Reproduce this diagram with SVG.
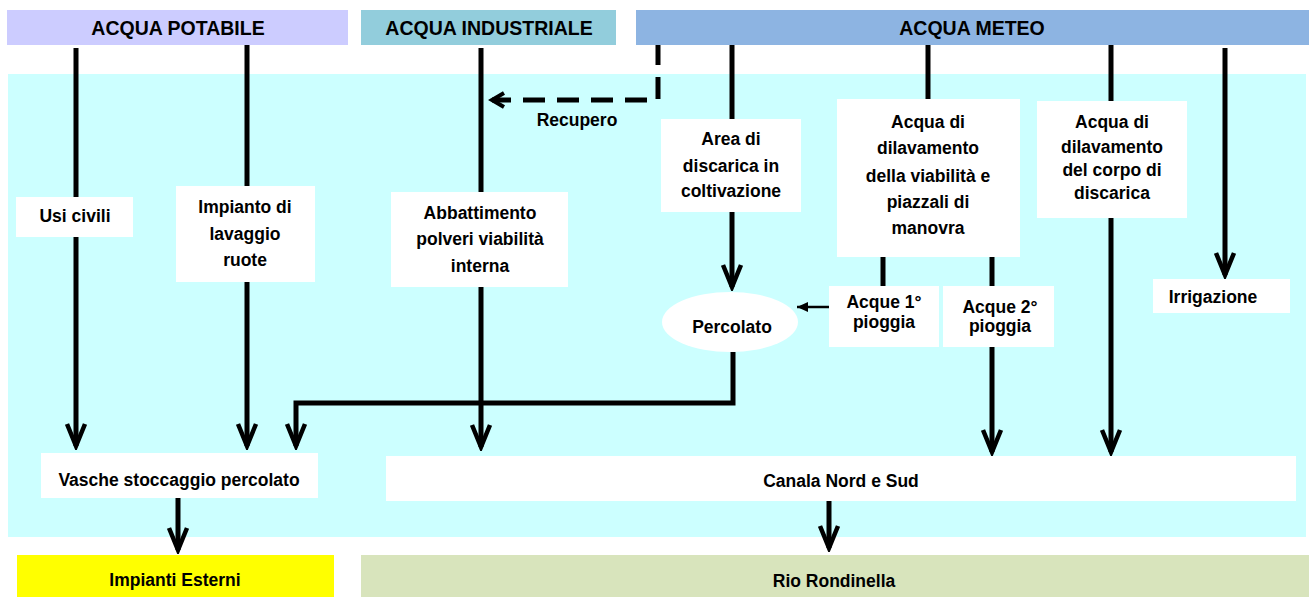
<svg xmlns="http://www.w3.org/2000/svg" width="1309" height="597" viewBox="0 0 1309 597">
<style>
.t{font-family:"Liberation Sans",Arial,sans-serif;font-weight:bold;font-size:17.5px;fill:#000;text-anchor:middle}
.h{font-size:19.5px}
.box{fill:#fff}
.ln{stroke:#000;stroke-width:5;fill:none}
</style>
<defs>
<marker id="open" markerUnits="userSpaceOnUse" viewBox="-26 -13 30 26" markerWidth="30" markerHeight="26" refX="0" refY="0" orient="auto">
<path d="M-22,-9 L0,0 L-22,9" fill="none" stroke="#000" stroke-width="4.5"/>
</marker>
<marker id="openS" markerUnits="userSpaceOnUse" viewBox="-16 -10 20 20" markerWidth="20" markerHeight="20" refX="0" refY="0" orient="auto">
<path d="M-12,-7 L0,0 L-12,7" fill="none" stroke="#000" stroke-width="4"/>
</marker>
<marker id="fill" markerUnits="userSpaceOnUse" viewBox="-12 -6 14 12" markerWidth="14" markerHeight="12" refX="0" refY="0" orient="auto">
<path d="M-11,-5 L0,0 L-11,5 Z" fill="#000"/>
</marker>
</defs>
<rect width="1309" height="597" fill="#fff"/>
<rect x="8" y="74" width="1298" height="463" fill="#CCFFFF"/>
<g id="connectors">
<path class="ln" d="M76,48 V446" marker-end="url(#open)"/>
<path class="ln" d="M247,45 V446" marker-end="url(#open)"/>
<path class="ln" d="M481,48 V447" marker-end="url(#open)"/>
<path class="ln" d="M733,352 V403 H296 V446" marker-end="url(#open)"/>
<path class="ln" d="M732,45 V287" marker-end="url(#open)"/>
<path class="ln" d="M928,45 V100"/>
<path class="ln" d="M883,256 V287"/>
<path class="ln" d="M992,256 V452" marker-end="url(#open)"/>
<path class="ln" d="M1111,43 V452" marker-end="url(#open)"/>
<path class="ln" d="M1225,48 V275" marker-end="url(#open)"/>
<path class="ln" d="M658,43 V100 H492" stroke-dasharray="22,12" marker-end="url(#openS)"/>
<path d="M829,307 H797" stroke="#000" stroke-width="2.5" fill="none" marker-end="url(#fill)"/>
<path class="ln" d="M178,498 V550" marker-end="url(#open)"/>
<path class="ln" d="M829,501 V548" marker-end="url(#open)"/>
</g>
<g id="acqua-potabile"><rect x="7" y="10" width="341" height="35" fill="#CCCCFF"/><text class="t h" x="178" y="35">ACQUA POTABILE</text></g>
<g id="acqua-industriale"><rect x="361" y="10" width="255" height="35" fill="#92CDDC"/><text class="t h" x="489" y="35">ACQUA INDUSTRIALE</text></g>
<g id="acqua-meteo"><rect x="636" y="10" width="673" height="35" fill="#8DB4E2"/><text class="t h" x="972" y="35">ACQUA METEO</text></g>
<g id="recupero"><text class="t" x="577" y="126">Recupero</text></g>
<g id="usi-civili"><rect class="box" x="16" y="197" width="117" height="40"/><text class="t" x="75" y="222">Usi civili</text></g>
<g id="impianto-lavaggio"><rect class="box" x="176" y="186" width="139" height="96"/><text class="t" x="245" y="213">Impianto di</text><text class="t" x="245" y="240">lavaggio</text><text class="t" x="245" y="266">ruote</text></g>
<g id="abbattimento"><rect class="box" x="391" y="192" width="177" height="95"/><text class="t" x="480" y="219">Abbattimento</text><text class="t" x="480" y="245">polveri viabilità</text><text class="t" x="480" y="272">interna</text></g>
<g id="area-discarica"><rect class="box" x="661" y="119" width="140" height="93"/><text class="t" x="731" y="145">Area di</text><text class="t" x="731" y="172">discarica in</text><text class="t" x="731" y="197">coltivazione</text></g>
<g id="dilavamento-viabilita"><rect class="box" x="837" y="99" width="183" height="158"/><text class="t" x="928" y="128">Acqua di</text><text class="t" x="928" y="154">dilavamento</text><text class="t" x="928" y="182">della viabilità e</text><text class="t" x="928" y="208">piazzali di</text><text class="t" x="928" y="234">manovra</text></g>
<g id="dilavamento-corpo"><rect class="box" x="1037" y="101" width="150" height="117"/><text class="t" x="1112" y="128">Acqua di</text><text class="t" x="1112" y="153">dilavamento</text><text class="t" x="1112" y="176">del corpo di</text><text class="t" x="1112" y="199">discarica</text></g>
<g id="irrigazione"><rect class="box" x="1153" y="279" width="137" height="34"/><text class="t" x="1213" y="303">Irrigazione</text></g>
<g id="percolato"><ellipse cx="730" cy="322" rx="68" ry="30" fill="#fff"/><text class="t" x="732" y="333">Percolato</text></g>
<g id="acque-1"><rect class="box" x="829" y="286" width="110" height="61"/><text class="t" x="884" y="308">Acque 1°</text><text class="t" x="884" y="328">pioggia</text></g>
<g id="acque-2"><rect class="box" x="943" y="286" width="111" height="61"/><text class="t" x="1000" y="313">Acque 2°</text><text class="t" x="1000" y="332">pioggia</text></g>
<g id="vasche"><rect class="box" x="41" y="453" width="277" height="45"/><text class="t" x="179" y="486">Vasche stoccaggio percolato</text></g>
<g id="canala"><rect class="box" x="386" y="456" width="910" height="45"/><text class="t" x="841" y="487">Canala Nord e Sud</text></g>
<g id="impianti-esterni"><rect x="17" y="555" width="317" height="42" fill="#FFFF00"/><text class="t" x="175" y="586">Impianti Esterni</text></g>
<g id="rio-rondinella"><rect x="361" y="555" width="948" height="42" fill="#D8E4BC"/><text class="t" x="834" y="587">Rio Rondinella</text></g>
</svg>
